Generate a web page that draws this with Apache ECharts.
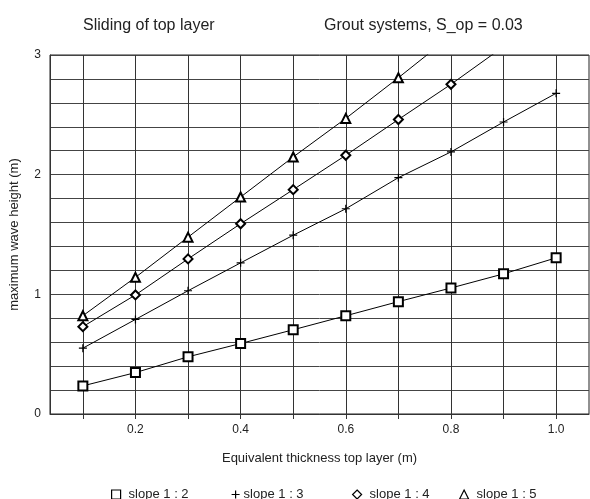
<!DOCTYPE html>
<html>
<head>
<meta charset="utf-8">
<script src="https://cdn.jsdelivr.net/npm/echarts@6/dist/echarts.min.js"></script>
<style>html,body{margin:0;padding:0;background:#fff}#c{width:590px;height:499px}</style>
</head>
<body>
<div id="c"></div>
<script>
const thickness = [0.1, 0.2, 0.3, 0.4, 0.5, 0.6, 0.7, 0.8, 0.9, 1.0];
const slope12 = [0.235, 0.346, 0.478, 0.589, 0.704, 0.821, 0.939, 1.053, 1.171, 1.305];
const slope13 = [0.55, 0.79, 1.03, 1.263, 1.494, 1.715, 1.975, 2.19, 2.44, 2.68];
const slope14 = [0.73, 0.995, 1.296, 1.59, 1.875, 2.162, 2.461, 2.755, 3.07];
const slope15 = [0.821, 1.142, 1.478, 1.813, 2.148, 2.47, 2.81, 3.16];
const seriesNames = ['slope 1 : 2', 'slope 1 : 3', 'slope 1 : 4', 'slope 1 : 5'];
const xTicks = [0.1, 0.2, 0.3, 0.4, 0.5, 0.6, 0.7, 0.8, 0.9, 1.0];
const xLabels = [0.2, 0.4, 0.6, 0.8, 1.0];
const yTicks = [0, 0.2, 0.4, 0.6, 0.8, 1, 1.2, 1.4, 1.6, 1.8, 2, 2.2, 2.4, 2.6, 2.8, 3];
const yLabels = [0, 1, 2, 3];
const titleLeft = 'Sliding of top layer';
const titleRight = 'Grout systems, S_op = 0.03';

const FONT = 'Liberation Sans, Arial, sans-serif';
const plusPath = 'path://M0,4L8,4M4,0L4,8';
const pair = (ys) => ys.map((y, i) => [thickness[i], y]);
const allData = [slope12, slope13, slope14, slope15];
const symbols = ['emptyRect', plusPath, 'emptyDiamond', 'emptyTriangle'];
const sizes = [9, 8, 9, 9];
const legendLeft = [106, 226, 347, 454];

const chart = echarts.init(document.getElementById('c'), null, {renderer: 'canvas'});
chart.setOption({
  animation: false,
  backgroundColor: '#fff',
  title: [
    {text: titleLeft, left: 78, top: 13, textStyle: {fontFamily: FONT, fontSize: 16, fontWeight: 'normal', color: '#222'}},
    {text: titleRight, left: 319, top: 13, textStyle: {fontFamily: FONT, fontSize: 16, fontWeight: 'normal', color: '#222'}}
  ],
  legend: seriesNames.map((n, i) => ({
    data: [{name: n, icon: symbols[i] === plusPath ? plusPath : ['rect', '', 'diamond', 'triangle'][i],
      itemStyle: {color: i === 1 ? '#000' : '#fff', borderColor: '#000', borderWidth: 1.2}}],
    left: legendLeft[i], top: 483, itemWidth: i === 1 ? 8 : 9, itemHeight: i === 1 ? 8 : 9, itemGap: 0,
    textStyle: {fontFamily: FONT, fontSize: 13, color: '#222', padding: [0, 0, 0, i === 1 ? -1 : 3]},
    selectedMode: false
  })),
  grid: {left: 50, right: 1, top: 55, bottom: 85, containLabel: false, show: true, borderColor: '#222', borderWidth: 1},
  xAxis: {
    type: 'value', min: 0.0375, max: 1.0625,
    name: 'Equivalent thickness top layer (m)', nameLocation: 'middle', nameGap: 38,
    nameTextStyle: {fontFamily: FONT, fontSize: 13, color: '#222'},
    axisLine: {show: true, lineStyle: {color: '#333', width: 1}},
    axisTick: {show: true, customValues: xTicks, length: 5, lineStyle: {color: '#333'}},
    axisLabel: {customValues: xLabels, fontFamily: FONT, fontSize: 12, color: '#222', margin: 10,
      formatter: v => v.toFixed(1)},
    splitLine: {show: true, lineStyle: {color: '#333', width: 1}}
  },
  yAxis: {
    type: 'value', min: 0, max: 3,
    name: 'maximum wave height (m)', nameLocation: 'middle', nameGap: 29,
    nameTextStyle: {fontFamily: FONT, fontSize: 13, color: '#222'},
    axisLine: {show: true, lineStyle: {color: '#333', width: 1}},
    axisTick: {show: false, customValues: yTicks},
    axisLabel: {customValues: yLabels, fontFamily: FONT, fontSize: 12, color: '#222', margin: 9},
    splitLine: {show: true, lineStyle: {color: '#444', width: 1}}
  },
  series: seriesNames.map((n, i) => ({
    name: n, type: 'line', data: pair(allData[i]),
    symbol: symbols[i], symbolSize: sizes[i], showAllSymbol: true, clip: true,
    lineStyle: {color: '#000', width: 1},
    itemStyle: {color: '#000', borderColor: '#000', borderWidth: 1.2},
    z: 3
  }))
});
</script>
</body>
</html>
